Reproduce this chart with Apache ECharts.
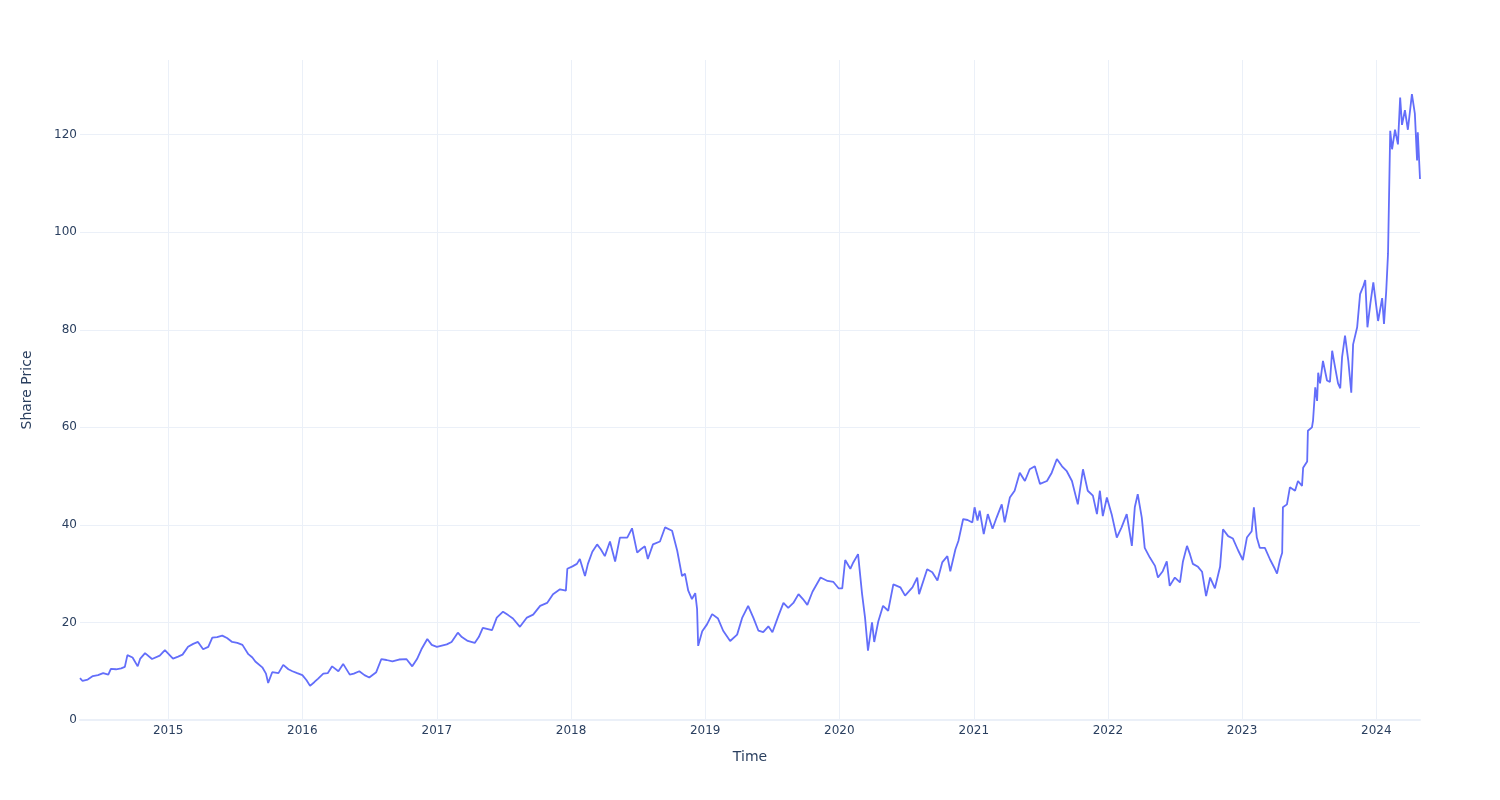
<!DOCTYPE html>
<html>
<head>
<meta charset="utf-8">
<script src="https://cdn.jsdelivr.net/npm/echarts@6/dist/echarts.min.js"></script>
<style>
html,body{margin:0;padding:0;background:#fff;}
#chart{width:1500px;height:800px;}
</style>
</head>
<body>
<div id="chart"></div>
<script>
const dates = [
'2014-05-06','2014-05-13','2014-05-27','2014-06-10','2014-06-24','2014-07-08','2014-07-22','2014-07-29','2014-08-12','2014-08-26',
'2014-09-05','2014-09-12','2014-09-26','2014-10-10','2014-10-17','2014-10-30','2014-11-18','2014-12-09','2014-12-23','2015-01-14',
'2015-01-28','2015-02-09','2015-02-24','2015-03-10','2015-03-23','2015-04-06','2015-04-20','2015-05-01','2015-05-14','2015-05-28',
'2015-06-10','2015-06-24','2015-07-08','2015-07-22','2015-08-07','2015-08-18','2015-08-26','2015-09-14','2015-09-24','2015-09-30',
'2015-10-11','2015-10-28','2015-11-10','2015-11-24','2015-12-05','2015-12-18','2016-01-01','2016-01-12','2016-01-22','2016-02-03',
'2016-02-13','2016-02-27','2016-03-10','2016-03-22','2016-04-08','2016-04-21','2016-05-09','2016-05-20','2016-06-04','2016-06-18',
'2016-07-01','2016-07-20','2016-08-03','2016-08-17','2016-09-02','2016-09-20','2016-10-10','2016-10-26','2016-11-08','2016-11-20',
'2016-12-06','2016-12-18','2017-01-01','2017-01-28','2017-02-10','2017-02-27','2017-03-10','2017-03-26','2017-04-14','2017-04-25',
'2017-05-06','2017-05-31','2017-06-13','2017-06-30','2017-07-14','2017-07-27','2017-08-15','2017-09-03','2017-09-20','2017-10-09',
'2017-10-28','2017-11-13','2017-12-02','2017-12-18','2017-12-22','2018-01-05','2018-01-17','2018-01-25','2018-02-08','2018-02-16',
'2018-02-28','2018-03-13','2018-03-23','2018-04-03','2018-04-17','2018-05-01','2018-05-14','2018-06-03','2018-06-16','2018-06-30',
'2018-07-10','2018-07-21','2018-07-29','2018-08-12','2018-08-31','2018-09-14','2018-10-03','2018-10-17','2018-10-30','2018-11-07',
'2018-11-16','2018-11-26','2018-12-05','2018-12-10','2018-12-13','2018-12-24','2019-01-06','2019-01-20','2019-02-05','2019-02-19',
'2019-03-10','2019-03-29','2019-04-12','2019-04-28','2019-05-12','2019-05-26','2019-06-08','2019-06-22','2019-07-03','2019-07-19',
'2019-08-02','2019-08-15','2019-08-29','2019-09-12','2019-09-24','2019-10-06','2019-10-20','2019-11-11','2019-11-30','2019-12-16',
'2019-12-30','2020-01-09','2020-01-17','2020-01-31','2020-02-08','2020-02-21','2020-03-03','2020-03-11','2020-03-19','2020-03-30',
'2020-04-05','2020-04-16','2020-04-29','2020-05-13','2020-05-27','2020-06-15','2020-06-28','2020-07-18','2020-07-31','2020-08-05',
'2020-08-27','2020-09-10','2020-09-24','2020-10-07','2020-10-21','2020-10-29','2020-11-12','2020-11-20','2020-12-03','2020-12-15',
'2020-12-28','2021-01-03','2021-01-11','2021-01-17','2021-01-28','2021-02-08','2021-02-21','2021-03-04','2021-03-18','2021-03-26',
'2021-04-09','2021-04-22','2021-05-06','2021-05-20','2021-06-02','2021-06-16','2021-06-30','2021-07-19','2021-08-01','2021-08-15',
'2021-08-29','2021-09-11','2021-09-25','2021-10-11','2021-10-25','2021-11-07','2021-11-21','2021-12-02','2021-12-10','2021-12-18',
'2021-12-29','2022-01-11','2022-01-25','2022-02-07','2022-02-21','2022-03-07','2022-03-15','2022-03-23','2022-04-03','2022-04-11',
'2022-04-25','2022-05-09','2022-05-17','2022-05-30','2022-06-10','2022-06-18','2022-07-02','2022-07-16','2022-07-24','2022-08-04',
'2022-08-12','2022-08-20','2022-09-03','2022-09-14','2022-09-25','2022-10-06','2022-10-19','2022-11-02','2022-11-10','2022-11-24',
'2022-12-07','2022-12-21','2023-01-03','2023-01-14','2023-01-27','2023-02-02','2023-02-10','2023-02-18','2023-03-04','2023-03-18',
'2023-03-31','2023-04-06','2023-04-14','2023-04-20','2023-04-22','2023-05-03','2023-05-11','2023-05-25','2023-06-02','2023-06-13',
'2023-06-16','2023-06-27','2023-06-29','2023-07-10','2023-07-13','2023-07-19','2023-07-24','2023-07-27','2023-08-01','2023-08-09',
'2023-08-20','2023-08-28','2023-09-03','2023-09-11','2023-09-19','2023-09-25','2023-09-30','2023-10-08','2023-10-17','2023-10-25',
'2023-10-30','2023-11-10','2023-11-18','2023-11-27','2023-12-02','2023-12-08','2023-12-16','2023-12-24','2023-12-29','2024-01-06',
'2024-01-17','2024-01-22','2024-01-28','2024-02-02','2024-02-05','2024-02-08','2024-02-13','2024-02-21','2024-02-29','2024-03-06',
'2024-03-11','2024-03-19','2024-03-27','2024-04-07','2024-04-15','2024-04-21','2024-04-23','2024-04-29'
];
const prices = [
8.6,8.0,8.3,9.0,9.2,9.6,9.3,10.5,10.4,10.6,
10.9,13.3,12.8,11.0,12.6,13.7,12.5,13.2,14.3,12.6,
13.0,13.4,15.0,15.6,16.0,14.5,15.0,16.9,17.0,17.3,
16.8,16.0,15.8,15.4,13.5,12.8,12.0,10.8,9.5,7.6,
9.8,9.6,11.3,10.4,10.0,9.6,9.2,8.2,7.0,7.8,
8.5,9.5,9.6,11.0,10.0,11.5,9.3,9.5,10.0,9.2,
8.7,9.8,12.5,12.3,12.0,12.4,12.5,11.0,12.5,14.5,
16.6,15.4,15.0,15.5,16.0,17.9,17.0,16.2,15.8,17.0,
18.9,18.4,21.0,22.2,21.5,20.8,19.1,21.0,21.6,23.4,
24.0,25.8,26.8,26.5,31.0,31.5,32.0,33.0,29.5,32.0,
34.5,36.0,35.0,33.6,36.6,32.5,37.4,37.4,39.3,34.3,
35.0,35.6,33.0,36.0,36.6,39.5,38.8,34.7,29.5,30.0,
26.5,24.8,26.0,22.8,15.2,18.2,19.6,21.7,20.8,18.3,
16.2,17.5,21.0,23.4,21.0,18.3,18.0,19.2,18.0,21.3,
24.0,23.0,24.0,25.8,24.8,23.6,26.3,29.2,28.5,28.3,
27.0,27.0,32.8,31.0,32.3,34.0,25.8,21.0,14.2,20.0,
16.0,20.2,23.4,22.4,27.8,27.2,25.5,27.2,29.2,25.8,
30.9,30.3,28.6,32.3,33.6,30.5,35.0,36.7,41.2,41.0,
40.5,43.6,40.9,42.9,38.1,42.2,39.2,41.5,44.2,40.5,
45.6,47.0,50.7,49.0,51.4,52.0,48.4,49.0,50.7,53.5,
52.0,51.0,49.0,44.2,51.4,47.0,46.0,42.2,47.0,41.8,
45.6,42.2,37.4,39.5,42.2,35.7,43.6,46.3,41.5,35.3,
33.3,31.6,29.2,30.5,32.5,27.5,29.2,28.2,32.5,35.7,
34.0,32.0,31.4,30.4,25.4,29.2,27.0,31.4,39.1,37.7,
37.2,34.8,32.8,37.4,38.7,43.6,37.4,35.3,35.3,32.9,
31.0,30.0,32.8,34.3,43.6,44.2,47.7,47.0,49.0,48.0,
51.7,53.0,59.3,60.0,61.4,68.2,65.4,71.2,69.0,73.6,
69.6,69.3,75.7,72.3,69.0,68.0,74.4,78.8,73.6,67.1,
77.0,80.5,87.3,89.0,90.2,80.5,85.4,89.7,89.4,81.8,
86.5,81.2,87.8,95.6,96.0,120.8,117.0,121.0,118.0,127.6,
122.0,125.0,121.0,128.3,124.3,114.7,120.5,110.9
];
const yTicks = [0, 20, 40, 60, 80, 100, 120];
const xTitle = 'Time';
const yTitle = 'Share Price';

const chart = echarts.init(document.getElementById('chart'), null, {renderer: 'canvas'});
const font = 'DejaVu Sans, Verdana, sans-serif';
const seriesData = dates.map((d, i) => [d, prices[i]]);

chart.setOption({
  animation: false,
  backgroundColor: '#ffffff',
  grid: {left: 80, right: 80, top: 60, bottom: 80, containLabel: false},
  xAxis: {
    type: 'time',
    min: dates[0],
    max: dates[dates.length - 1],
    splitNumber: 10,
    name: xTitle,
    nameLocation: 'middle',
    nameGap: 30,
    nameTextStyle: {color: '#2a3f5f', fontSize: 14, fontFamily: font},
    axisLine: {show: true, lineStyle: {color: '#ebf0f8', width: 2}},
    axisTick: {show: false},
    axisLabel: {
      color: '#2a3f5f', fontSize: 12, fontFamily: font, margin: 5,
      showMinLabel: false, showMaxLabel: false,
      formatter: function (v) {
        const d = new Date(v);
        return (d.getMonth() === 0 && d.getDate() === 1) ? String(d.getFullYear()) : '';
      }
    },
    splitLine: {show: true, showMinLine: false, showMaxLine: false, lineStyle: {color: '#ebf0f8', width: 1}}
  },
  yAxis: {
    type: 'value',
    min: yTicks[0],
    max: 135.3,
    interval: 20,
    name: yTitle,
    nameLocation: 'middle',
    nameGap: 46,
    nameTextStyle: {color: '#2a3f5f', fontSize: 14, fontFamily: font},
    axisLine: {show: false},
    axisTick: {show: false},
    axisLabel: {
      color: '#2a3f5f', fontSize: 12, fontFamily: font, margin: 3,
      showMaxLabel: false,
      formatter: function (v) { return yTicks.indexOf(v) >= 0 ? String(v) : ''; }
    },
    splitLine: {show: true, showMaxLine: false, lineStyle: {color: '#ebf0f8', width: 1}}
  },
  series: [{
    type: 'line',
    data: seriesData,
    showSymbol: false,
    symbol: 'none',
    sampling: null,
    lineStyle: {color: '#636efa', width: 1.8},
    itemStyle: {color: '#636efa'}
  }]
});
</script>
</body>
</html>
